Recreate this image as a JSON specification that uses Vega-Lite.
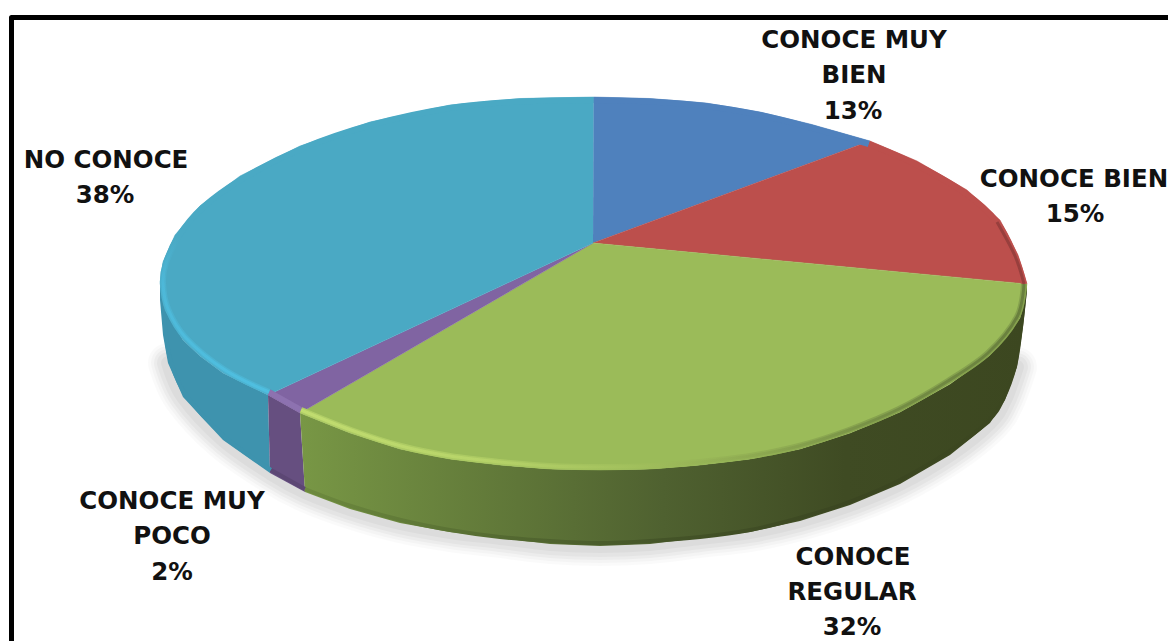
{"$schema":"https://vega.github.io/schema/vega-lite/v6.json","width":1168,"height":641,"autosize":{"type":"none"},"padding":0,"background":"#ffffff","config":{"view":{"stroke":null}},
"datasets":{
"shadow":[{"o":2,"x":168,"y":363},{"o":3,"x":183,"y":397},{"o":4,"x":223,"y":440},{"o":5,"x":270,"y":473},{"o":6,"x":305,"y":492},{"o":7,"x":350,"y":509},{"o":8,"x":400,"y":523},{"o":9,"x":450,"y":532},{"o":10,"x":500,"y":538},{"o":11,"x":550,"y":544},{"o":12,"x":600,"y":546},{"o":13,"x":650,"y":544},{"o":14,"x":700,"y":538},{"o":15,"x":750,"y":532},{"o":16,"x":800,"y":521},{"o":17,"x":850,"y":505},{"o":18,"x":900,"y":484},{"o":19,"x":950,"y":455},{"o":20,"x":990,"y":423},{"o":21,"x":1005,"y":400},{"o":22,"x":1017,"y":367}],
"walls":[
{"s":"teal","o":1,"x":160,"y":283},{"s":"teal","o":2,"x":165,"y":310},{"s":"teal","o":3,"x":183,"y":340},{"s":"teal","o":4,"x":200,"y":356},{"s":"teal","o":5,"x":223,"y":373},{"s":"teal","o":6,"x":268,"y":395},{"s":"teal","o":7,"x":270,"y":473},{"s":"teal","o":8,"x":223,"y":440},{"s":"teal","o":9,"x":183,"y":397},{"s":"teal","o":10,"x":168,"y":363},{"s":"teal","o":11,"x":163,"y":335},{"s":"teal","o":12,"x":160,"y":300},
{"s":"purple","o":1,"x":268,"y":395},{"s":"purple","o":2,"x":300,"y":413},{"s":"purple","o":3,"x":305,"y":492},{"s":"purple","o":4,"x":270,"y":473},
{"s":"green","o":1,"x":300,"y":413},{"s":"green","o":2,"x":350,"y":433},{"s":"green","o":3,"x":400,"y":449},{"s":"green","o":4,"x":450,"y":459},{"s":"green","o":5,"x":500,"y":465},{"s":"green","o":6,"x":550,"y":469},{"s":"green","o":7,"x":600,"y":470},{"s":"green","o":8,"x":650,"y":469},{"s":"green","o":9,"x":700,"y":465},{"s":"green","o":10,"x":750,"y":459},{"s":"green","o":11,"x":800,"y":449},{"s":"green","o":12,"x":850,"y":433},{"s":"green","o":13,"x":900,"y":412},{"s":"green","o":14,"x":950,"y":384},{"s":"green","o":15,"x":990,"y":355},{"s":"green","o":16,"x":1020,"y":318},{"s":"green","o":17,"x":1027,"y":284},{"s":"green","o":18,"x":1027,"y":290},{"s":"green","o":19,"x":1023,"y":327},{"s":"green","o":20,"x":1017,"y":367},{"s":"green","o":21,"x":1005,"y":400},{"s":"green","o":22,"x":990,"y":423},{"s":"green","o":23,"x":950,"y":455},{"s":"green","o":24,"x":900,"y":484},{"s":"green","o":25,"x":850,"y":505},{"s":"green","o":26,"x":800,"y":521},{"s":"green","o":27,"x":750,"y":532},{"s":"green","o":28,"x":700,"y":538},{"s":"green","o":29,"x":650,"y":544},{"s":"green","o":30,"x":600,"y":546},{"s":"green","o":31,"x":550,"y":544},{"s":"green","o":32,"x":500,"y":538},{"s":"green","o":33,"x":450,"y":532},{"s":"green","o":34,"x":400,"y":523},{"s":"green","o":35,"x":350,"y":509},{"s":"green","o":36,"x":305,"y":492}],
"floor":[
{"s":"teal","o":1,"x":163,"y":300},{"s":"teal","o":2,"x":166,"y":335},{"s":"teal","o":3,"x":171,"y":362},{"s":"teal","o":4,"x":186,"y":395},{"s":"teal","o":5,"x":225,"y":437},{"s":"teal","o":6,"x":271,"y":470},
{"s":"purple","o":1,"x":271,"y":470},{"s":"purple","o":2,"x":305,"y":489},
{"s":"green","o":1,"x":305,"y":489},{"s":"green","o":2,"x":351,"y":506},{"s":"green","o":3,"x":401,"y":520},{"s":"green","o":4,"x":450,"y":530},{"s":"green","o":5,"x":500,"y":537},{"s":"green","o":6,"x":550,"y":541},{"s":"green","o":7,"x":600,"y":543},{"s":"green","o":8,"x":650,"y":541},{"s":"green","o":9,"x":700,"y":537},{"s":"green","o":10,"x":750,"y":530},{"s":"green","o":11,"x":799,"y":518},{"s":"green","o":12,"x":849,"y":502},{"s":"green","o":13,"x":898,"y":481},{"s":"green","o":14,"x":948,"y":452},{"s":"green","o":15,"x":988,"y":421},{"s":"green","o":16,"x":1003,"y":399},{"s":"green","o":17,"x":1015,"y":366},{"s":"green","o":18,"x":1021,"y":327},{"s":"green","o":19,"x":1025,"y":290}],
"faces":[
{"s":"CONOCE MUY BIEN","o":0,"x":593,"y":243},{"s":"CONOCE MUY BIEN","o":1,"x":593.5,"y":97},{"s":"CONOCE MUY BIEN","o":2,"x":650,"y":98.5},{"s":"CONOCE MUY BIEN","o":3,"x":706,"y":103},{"s":"CONOCE MUY BIEN","o":4,"x":760,"y":112},{"s":"CONOCE MUY BIEN","o":5,"x":810,"y":124},{"s":"CONOCE MUY BIEN","o":6,"x":870,"y":141},
{"s":"CONOCE BIEN","o":0,"x":593,"y":243},{"s":"CONOCE BIEN","o":1,"x":870,"y":141},{"s":"CONOCE BIEN","o":2,"x":917,"y":161},{"s":"CONOCE BIEN","o":3,"x":967,"y":190},{"s":"CONOCE BIEN","o":4,"x":1000,"y":220},{"s":"CONOCE BIEN","o":5,"x":1018,"y":255},{"s":"CONOCE BIEN","o":6,"x":1027,"y":284},
{"s":"CONOCE REGULAR","o":0,"x":593,"y":243},{"s":"CONOCE REGULAR","o":1,"x":1027,"y":284},{"s":"CONOCE REGULAR","o":2,"x":1020,"y":318},{"s":"CONOCE REGULAR","o":3,"x":990,"y":355},{"s":"CONOCE REGULAR","o":4,"x":950,"y":384},{"s":"CONOCE REGULAR","o":5,"x":900,"y":412},{"s":"CONOCE REGULAR","o":6,"x":850,"y":433},{"s":"CONOCE REGULAR","o":7,"x":800,"y":449},{"s":"CONOCE REGULAR","o":8,"x":750,"y":459},{"s":"CONOCE REGULAR","o":9,"x":700,"y":465},{"s":"CONOCE REGULAR","o":10,"x":650,"y":469},{"s":"CONOCE REGULAR","o":11,"x":600,"y":470},{"s":"CONOCE REGULAR","o":12,"x":550,"y":469},{"s":"CONOCE REGULAR","o":13,"x":500,"y":465},{"s":"CONOCE REGULAR","o":14,"x":450,"y":459},{"s":"CONOCE REGULAR","o":15,"x":400,"y":449},{"s":"CONOCE REGULAR","o":16,"x":350,"y":433},{"s":"CONOCE REGULAR","o":17,"x":300,"y":413},
{"s":"CONOCE MUY POCO","o":0,"x":593,"y":243},{"s":"CONOCE MUY POCO","o":1,"x":300,"y":413},{"s":"CONOCE MUY POCO","o":2,"x":268,"y":395},
{"s":"NO CONOCE","o":0,"x":593,"y":243},{"s":"NO CONOCE","o":1,"x":268,"y":395},{"s":"NO CONOCE","o":2,"x":223,"y":373},{"s":"NO CONOCE","o":3,"x":200,"y":356},{"s":"NO CONOCE","o":4,"x":183,"y":340},{"s":"NO CONOCE","o":5,"x":165,"y":310},{"s":"NO CONOCE","o":6,"x":160,"y":283},{"s":"NO CONOCE","o":7,"x":163,"y":262},{"s":"NO CONOCE","o":8,"x":175,"y":235},{"s":"NO CONOCE","o":9,"x":200,"y":206},{"s":"NO CONOCE","o":10,"x":240,"y":176},{"s":"NO CONOCE","o":11,"x":300,"y":146},{"s":"NO CONOCE","o":12,"x":370,"y":122},{"s":"NO CONOCE","o":13,"x":450,"y":105},{"s":"NO CONOCE","o":14,"x":520,"y":98.5},{"s":"NO CONOCE","o":15,"x":593.5,"y":97}],
"edges":[
{"s":"CONOCE MUY BIEN","o":1,"x":593.5,"y":100},{"s":"CONOCE MUY BIEN","o":2,"x":650,"y":101.5},{"s":"CONOCE MUY BIEN","o":3,"x":706,"y":106},{"s":"CONOCE MUY BIEN","o":4,"x":760,"y":115},{"s":"CONOCE MUY BIEN","o":5,"x":809,"y":127},{"s":"CONOCE MUY BIEN","o":6,"x":869,"y":144},
{"s":"CONOCE BIEN","o":1,"x":869,"y":144},{"s":"CONOCE BIEN","o":2,"x":915,"y":164},{"s":"CONOCE BIEN","o":3,"x":965,"y":193},{"s":"CONOCE BIEN","o":4,"x":997,"y":222},{"s":"CONOCE BIEN","o":5,"x":1015,"y":256},{"s":"CONOCE BIEN","o":6,"x":1024,"y":284},
{"s":"CONOCE REGULAR","o":1,"x":1024,"y":284},{"s":"CONOCE REGULAR","o":2,"x":1017,"y":317},{"s":"CONOCE REGULAR","o":3,"x":988,"y":353},{"s":"CONOCE REGULAR","o":4,"x":948,"y":381},{"s":"CONOCE REGULAR","o":5,"x":899,"y":409},{"s":"CONOCE REGULAR","o":6,"x":849,"y":430},{"s":"CONOCE REGULAR","o":7,"x":799,"y":446},{"s":"CONOCE REGULAR","o":8,"x":750,"y":456},{"s":"CONOCE REGULAR","o":9,"x":700,"y":462},{"s":"CONOCE REGULAR","o":10,"x":650,"y":466},{"s":"CONOCE REGULAR","o":11,"x":600,"y":467},{"s":"CONOCE REGULAR","o":12,"x":550,"y":466},{"s":"CONOCE REGULAR","o":13,"x":500,"y":462},{"s":"CONOCE REGULAR","o":14,"x":450,"y":456},{"s":"CONOCE REGULAR","o":15,"x":401,"y":446},{"s":"CONOCE REGULAR","o":16,"x":351,"y":430},{"s":"CONOCE REGULAR","o":17,"x":301,"y":410},
{"s":"CONOCE MUY POCO","o":1,"x":301,"y":410},{"s":"CONOCE MUY POCO","o":2,"x":269,"y":392},
{"s":"NO CONOCE","o":1,"x":269,"y":392},{"s":"NO CONOCE","o":2,"x":225,"y":370},{"s":"NO CONOCE","o":3,"x":186,"y":338},{"s":"NO CONOCE","o":4,"x":168,"y":309},{"s":"NO CONOCE","o":5,"x":163,"y":283},{"s":"NO CONOCE","o":6,"x":166,"y":263},{"s":"NO CONOCE","o":7,"x":178,"y":237},{"s":"NO CONOCE","o":8,"x":202,"y":208},{"s":"NO CONOCE","o":9,"x":242,"y":179},{"s":"NO CONOCE","o":10,"x":301,"y":149},{"s":"NO CONOCE","o":11,"x":371,"y":125},{"s":"NO CONOCE","o":12,"x":450,"y":108},{"s":"NO CONOCE","o":13,"x":520,"y":101.5},{"s":"NO CONOCE","o":14,"x":593.5,"y":100}],
"glowTeal":[{"o":1,"x":178,"y":237},{"o":2,"x":166,"y":263},{"o":3,"x":163,"y":283},{"o":4,"x":168,"y":309},{"o":5,"x":186,"y":338},{"o":6,"x":225,"y":370},{"o":7,"x":269,"y":392}],
"glowRed":[{"o":1,"x":997,"y":222},{"o":2,"x":1015,"y":256},{"o":3,"x":1024,"y":284}],
"labels":[
{"t":"CONOCE MUY","x":854,"y":41},{"t":"BIEN","x":854,"y":76},{"t":"13%","x":853,"y":112},
{"t":"CONOCE BIEN","x":1074,"y":180},{"t":"15%","x":1075,"y":215},
{"t":"NO CONOCE","x":106,"y":161},{"t":"38%","x":105,"y":196},
{"t":"CONOCE MUY","x":172,"y":502},{"t":"POCO","x":172,"y":537},{"t":"2%","x":172,"y":573},
{"t":"CONOCE","x":853,"y":558},{"t":"REGULAR","x":852,"y":593},{"t":"32%","x":852,"y":628}],
"frame":[{"o":1,"x":11.5,"y":641},{"o":2,"x":11.5,"y":17.5},{"o":3,"x":1168,"y":17.5}]
},
"encoding":{
"x":{"field":"x","type":"quantitative","scale":{"domain":[0,1168],"nice":false,"zero":false},"axis":null},
"y":{"field":"y","type":"quantitative","scale":{"domain":[641,0],"nice":false,"zero":false},"axis":null},
"order":{"field":"o","type":"quantitative"}
},
"layer":[
{"data":{"name":"frame"},"mark":{"type":"line","stroke":"#000000","strokeWidth":5,"strokeJoin":"round"}},
{"data":{"name":"shadow"},"mark":{"type":"line","interpolate":"cardinal","tension":0,"stroke":"#000000","strokeWidth":40,"opacity":0.02,"strokeCap":"round"}},
{"data":{"name":"shadow"},"mark":{"type":"line","interpolate":"cardinal","tension":0,"stroke":"#000000","strokeWidth":34,"opacity":0.025,"strokeCap":"round"}},
{"data":{"name":"shadow"},"mark":{"type":"line","interpolate":"cardinal","tension":0,"stroke":"#000000","strokeWidth":28,"opacity":0.03,"strokeCap":"round"}},
{"data":{"name":"shadow"},"mark":{"type":"line","interpolate":"cardinal","tension":0,"stroke":"#000000","strokeWidth":22,"opacity":0.03,"strokeCap":"round"}},
{"data":{"name":"shadow"},"mark":{"type":"line","interpolate":"cardinal","tension":0,"stroke":"#000000","strokeWidth":14,"opacity":0.03,"strokeCap":"round"}},
{"data":{"name":"walls"},"transform":[{"filter":"datum.s==='teal'"}],"mark":{"type":"line","stroke":null,"fill":"#3e93ae"}},
{"data":{"name":"walls"},"transform":[{"filter":"datum.s==='purple'"}],"mark":{"type":"line","stroke":null,"fill":"#664f80"}},
{"data":{"name":"walls"},"transform":[{"filter":"datum.s==='green'"}],"mark":{"type":"line","stroke":null,"fill":{"gradient":"linear","x1":0,"x2":1,"y1":0,"y2":0,"stops":[{"offset":0,"color":"#789745"},{"offset":0.3,"color":"#5f7638"},{"offset":0.5,"color":"#4f6130"},{"offset":0.75,"color":"#3f4b23"},{"offset":1,"color":"#3c4720"}]}}},
{"data":{"name":"floor"},"transform":[{"filter":"datum.s==='teal'"}],"mark":{"type":"line","interpolate":"cardinal","tension":0,"stroke":"#3e93ae","strokeWidth":4}},
{"data":{"name":"floor"},"transform":[{"filter":"datum.s==='purple'"}],"mark":{"type":"line","stroke":"#5c4774","strokeWidth":4}},
{"data":{"name":"floor"},"transform":[{"filter":"datum.s==='green'"}],"mark":{"type":"line","interpolate":"cardinal","tension":0,"strokeWidth":4,"stroke":{"gradient":"linear","x1":0,"x2":1,"y1":0,"y2":0,"stops":[{"offset":0,"color":"#6d8a3e"},{"offset":0.3,"color":"#526730"},{"offset":0.5,"color":"#445428"},{"offset":0.75,"color":"#3b4621"},{"offset":1,"color":"#3c4720"}]}}},
{"data":{"name":"faces"},"mark":{"type":"line","strokeWidth":0.5},"encoding":{"fill":{"field":"s","type":"nominal","legend":null,"scale":{"domain":["CONOCE MUY BIEN","CONOCE BIEN","CONOCE REGULAR","CONOCE MUY POCO","NO CONOCE"],"range":["#4f81bd","#bc4f4c","#9bbb59","#8064a2","#4aa9c4"]}},"stroke":{"field":"s","type":"nominal","legend":null,"scale":{"domain":["CONOCE MUY BIEN","CONOCE BIEN","CONOCE REGULAR","CONOCE MUY POCO","NO CONOCE"],"range":["#4f81bd","#bc4f4c","#9bbb59","#8064a2","#4aa9c4"]}}}},
{"data":{"name":"edges"},"mark":{"type":"line","interpolate":"cardinal","tension":0,"strokeWidth":6},"encoding":{"stroke":{"field":"s","type":"nominal","legend":null,"scale":{"domain":["CONOCE MUY BIEN","CONOCE BIEN","CONOCE REGULAR","CONOCE MUY POCO","NO CONOCE"],"range":["#4f81bd","#bc4f4c","#9bbb59","#8064a2","#4aa9c4"]}}}},
{"data":{"name":"glowTeal"},"mark":{"type":"line","interpolate":"cardinal","tension":0,"strokeWidth":6,"opacity":0.5,"stroke":{"gradient":"linear","x1":0,"x2":0,"y1":0,"y2":1,"stops":[{"offset":0,"color":"#4aa9c4"},{"offset":0.3,"color":"#4db8d8"},{"offset":1,"color":"#4fbfe0"}]}}},
{"data":{"name":"edges"},"transform":[{"filter":"datum.s==='CONOCE MUY POCO'"}],"mark":{"type":"line","stroke":"#9a7fbd","strokeWidth":6,"opacity":0.5}},
{"data":{"name":"edges"},"transform":[{"filter":"datum.s==='CONOCE REGULAR'"}],"mark":{"type":"line","interpolate":"cardinal","tension":0,"strokeWidth":6,"opacity":0.5,"stroke":{"gradient":"linear","x1":0,"x2":1,"y1":0,"y2":0,"stops":[{"offset":0,"color":"#c4df72"},{"offset":0.25,"color":"#bcd86c"},{"offset":0.45,"color":"#a4c25e"},{"offset":0.6,"color":"#8fab52"},{"offset":0.8,"color":"#6f8742"},{"offset":1,"color":"#6f8742"}]}}},
{"data":{"name":"glowTeal"},"mark":{"type":"line","interpolate":"cardinal","tension":0,"strokeWidth":3,"stroke":{"gradient":"linear","x1":0,"x2":0,"y1":0,"y2":1,"stops":[{"offset":0,"color":"#4aa9c4"},{"offset":0.3,"color":"#4db8d8"},{"offset":1,"color":"#4fbfe0"}]}}},
{"data":{"name":"edges"},"transform":[{"filter":"datum.s==='CONOCE REGULAR'"}],"mark":{"type":"line","interpolate":"cardinal","tension":0,"strokeWidth":3,"opacity":0.7,"stroke":{"gradient":"linear","x1":0,"x2":1,"y1":0,"y2":0,"stops":[{"offset":0,"color":"#c8e374"},{"offset":0.25,"color":"#bcd86c"},{"offset":0.45,"color":"#a4c25e"},{"offset":0.6,"color":"#8fab52"},{"offset":0.8,"color":"#6f8742"},{"offset":1,"color":"#5c7036"}]}}},
{"data":{"name":"glowRed"},"mark":{"type":"line","interpolate":"cardinal","tension":0,"stroke":"#8e3b39","strokeWidth":3,"opacity":0.8}},
{"data":{"name":"labels"},"mark":{"type":"text","font":"DejaVu Sans","fontWeight":"bold","fontSize":24.5,"fill":"#111111","align":"center","baseline":"middle"},"encoding":{"text":{"field":"t","type":"nominal"},"order":null}}
]}
